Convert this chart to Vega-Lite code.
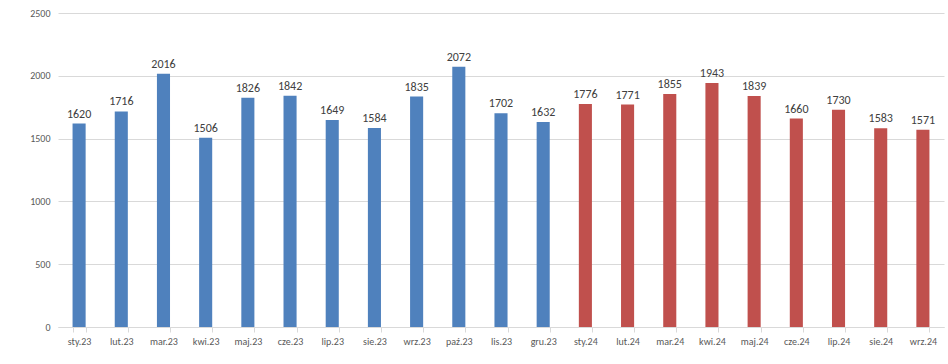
{
  "$schema": "https://vega.github.io/schema/vega-lite/v6.json",
  "width": 886,
  "height": 314,
  "autosize": {"type": "none"},
  "padding": {"left": 58, "top": 13, "right": 4, "bottom": 37},
  "background": "white",
  "config": {"view": {"stroke": null}, "font": "Calibri, Carlito, Liberation Sans, sans-serif"},
  "data": {"values": [
    {"m": "sty.23", "v": 1620, "y": "2023"},
    {"m": "lut.23", "v": 1716, "y": "2023"},
    {"m": "mar.23", "v": 2016, "y": "2023"},
    {"m": "kwi.23", "v": 1506, "y": "2023"},
    {"m": "maj.23", "v": 1826, "y": "2023"},
    {"m": "cze.23", "v": 1842, "y": "2023"},
    {"m": "lip.23", "v": 1649, "y": "2023"},
    {"m": "sie.23", "v": 1584, "y": "2023"},
    {"m": "wrz.23", "v": 1835, "y": "2023"},
    {"m": "paź.23", "v": 2072, "y": "2023"},
    {"m": "lis.23", "v": 1702, "y": "2023"},
    {"m": "gru.23", "v": 1632, "y": "2023"},
    {"m": "sty.24", "v": 1776, "y": "2024"},
    {"m": "lut.24", "v": 1771, "y": "2024"},
    {"m": "mar.24", "v": 1855, "y": "2024"},
    {"m": "kwi.24", "v": 1943, "y": "2024"},
    {"m": "maj.24", "v": 1839, "y": "2024"},
    {"m": "cze.24", "v": 1660, "y": "2024"},
    {"m": "lip.24", "v": 1730, "y": "2024"},
    {"m": "sie.24", "v": 1583, "y": "2024"},
    {"m": "wrz.24", "v": 1571, "y": "2024"}
  ]},
  "encoding": {
    "x": {"field": "m", "type": "nominal", "sort": null,
      "scale": {"paddingInner": 0.69, "paddingOuter": 0.345},
      "axis": {"title": null, "labelAngle": 0, "labelFontSize": 10, "labelColor": "#595959",
        "domainColor": "#D9D9D9", "tickColor": "#D9D9D9", "tickBand": "extent", "tickSize": 5, "labelPadding": 4, "grid": false}},
    "y": {"field": "v", "type": "quantitative",
      "scale": {"domain": [0, 2500]},
      "axis": {"title": null, "values": [0, 500, 1000, 1500, 2000, 2500], "format": "d", "labelFontSize": 10, "labelColor": "#595959",
        "domain": false, "ticks": false, "gridColor": "#D9D9D9", "labelPadding": 8}}
  },
  "layer": [
    {"mark": {"type": "bar"},
      "encoding": {"color": {"field": "y", "type": "nominal", "legend": null,
        "scale": {"domain": ["2023", "2024"], "range": ["#4F81BD", "#C0504D"]}}}},
    {"mark": {"type": "text", "dy": -10, "fontSize": 12, "color": "#404040"},
      "encoding": {"text": {"field": "v", "type": "quantitative", "format": "d"}}}
  ]
}
